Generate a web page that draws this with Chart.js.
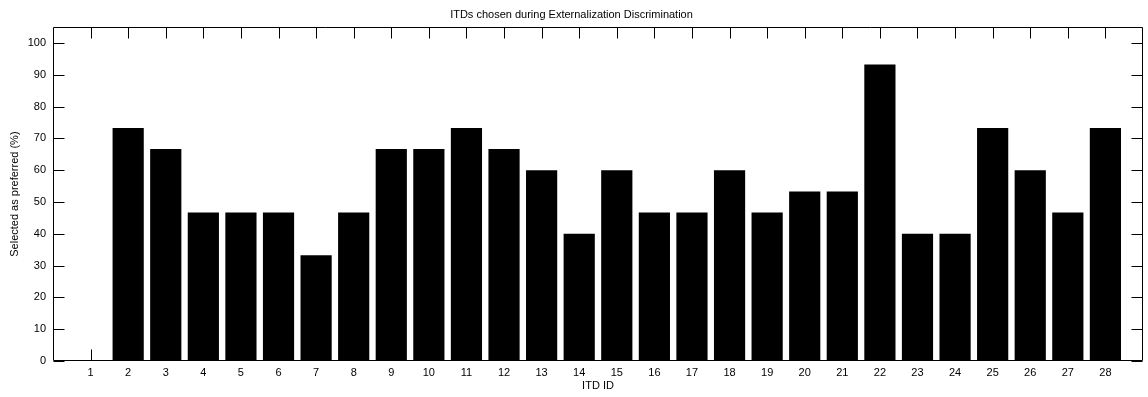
<!DOCTYPE html>
<html>
<head>
<meta charset="utf-8">
<script src="https://cdn.jsdelivr.net/npm/chart.js@4"></script>
<style>
  html, body { margin: 0; padding: 0; background: #fff; }
  #wrap { width: 1148px; height: 397px; }
</style>
</head>
<body>
<div id="wrap"><canvas id="bars"></canvas></div>
<script>
// ITD ids and share of trials each one was picked (%)
const itdIds = [1, 2, 3, 4, 5, 6, 7, 8, 9, 10, 11, 12, 13, 14, 15, 16, 17, 18, 19, 20, 21, 22, 23, 24, 25, 26, 27, 28];
const selectedPct = [0, 73.3, 66.7, 46.7, 46.7, 46.7, 33.3, 46.7, 66.7, 66.7, 73.3, 66.7, 60, 40, 60, 46.7, 46.7, 60, 46.7, 53.3, 53.3, 93.3, 40, 40, 73.3, 60, 46.7, 73.3];
const yTicks = [0, 10, 20, 30, 40, 50, 60, 70, 80, 90, 100];

const font = { family: "'Liberation Sans', Arial, sans-serif", size: 11, weight: 'normal' };
Chart.defaults.color = '#000';

// matlab style box with ticks pointing inwards
const boxTicks = {
  id: 'boxTicks',
  afterDraw(chart) {
    const { ctx, chartArea: a, scales: { x, y } } = chart;
    const len = 11;
    ctx.save();
    ctx.strokeStyle = '#000';
    ctx.lineWidth = 1;
    ctx.beginPath();
    const l = Math.round(a.left) + 0.5, r = Math.round(a.right) - 0.5;
    const t = Math.round(a.top) + 0.5, b = Math.round(a.bottom) - 0.5;
    ctx.rect(l, t, r - l, b - t);
    itdIds.forEach(id => {
      const px = Math.round(x.getPixelForValue(id)) + 0.5;
      ctx.moveTo(px, b); ctx.lineTo(px, b - len);
      ctx.moveTo(px, t); ctx.lineTo(px, t + len);
    });
    yTicks.forEach(v => {
      const py = Math.round(y.getPixelForValue(v)) + 0.5;
      ctx.moveTo(l, py); ctx.lineTo(l + len, py);
      ctx.moveTo(r, py); ctx.lineTo(r - len, py);
    });
    ctx.stroke();
    ctx.restore();
  }
};

new Chart(document.getElementById('bars'), {
  type: 'bar',
  data: {
    datasets: [{
      data: itdIds.map((id, i) => ({ x: id, y: selectedPct[i] })),
      backgroundColor: '#000',
      borderWidth: 0,
      barPercentage: 0.83,
      categoryPercentage: 1
    }]
  },
  options: {
    responsive: true,
    maintainAspectRatio: false,
    animation: false,
    layout: { padding: { right: 5 } },
    plugins: {
      legend: { display: false },
      tooltip: { enabled: false },
      title: {
        display: true,
        text: 'ITDs chosen during Externalization Discrimination',
        font: font,
        padding: { top: 8, bottom: 6 }
      }
    },
    scales: {
      x: {
        type: 'linear',
        offset: false,
        min: 0,
        max: 29,
        grid: { display: false, drawTicks: false },
        border: { display: false },
        ticks: {
          stepSize: 1,
          autoSkip: false,
          maxRotation: 0,
          padding: 5,
          font: font,
          callback: v => (v >= 1 && v <= 28) ? v : ''
        },
        title: { display: true, text: 'ITD ID', font: font, padding: { top: 0, bottom: 4 } },
        afterFit: s => { s.height = 36; }
      },
      y: {
        min: 0,
        max: 105,
        grid: { display: false, drawTicks: false },
        border: { display: false },
        ticks: {
          stepSize: 10,
          padding: 7,
          font: font,
          callback: v => (v % 10 === 0 && v <= 100) ? v : ''
        },
        title: { display: true, text: 'Selected as preferred (%)', font: font, padding: { top: 8, bottom: 0 } },
        afterFit: s => { s.width = 53; }
      }
    }
  },
  plugins: [boxTicks]
});
</script>
</body>
</html>
